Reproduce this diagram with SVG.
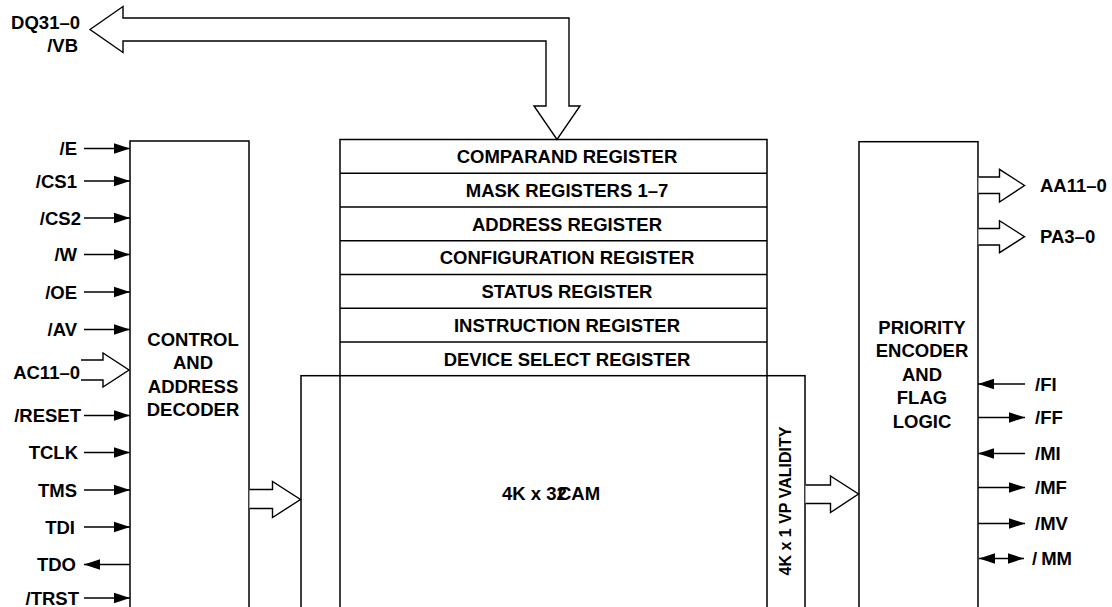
<svg xmlns="http://www.w3.org/2000/svg" width="1112" height="607" viewBox="0 0 1112 607">
<style>
.box{fill:#fff;stroke:#000;stroke-width:1.5}
.nofill{fill:none;stroke:#000;stroke-width:1.5}
.ln{fill:none;stroke:#000;stroke-width:1.5}
.sig{fill:none;stroke:#000;stroke-width:1.4}
.bus{fill:#fff;stroke:#000;stroke-width:1.4;stroke-linejoin:miter}
.t{font-family:"Liberation Sans",Arial,Helvetica,sans-serif;font-weight:bold;font-size:18.5px;fill:#000}
.c{text-anchor:middle}
.e{text-anchor:end}
</style>
<defs>
<marker id="ah" markerUnits="userSpaceOnUse" markerWidth="17" markerHeight="12" refX="16" refY="6" orient="auto-start-reverse">
<path d="M0,0.8 L16,6 L0,11.2 z" fill="#000"/>
</marker>
</defs>

<g id="cam">
<rect class="box" x="301" y="375.7" width="504" height="300"/>
<text class="t" x="502" y="500">4K x 32<tspan x="558">CAM</tspan></text>
</g>

<g id="registers">
<rect class="nofill" x="340" y="139.5" width="427" height="540"/>
<line class="ln" x1="340" y1="173.2" x2="767" y2="173.2"/>
<line class="ln" x1="340" y1="207" x2="767" y2="207"/>
<line class="ln" x1="340" y1="240.7" x2="767" y2="240.7"/>
<line class="ln" x1="340" y1="274.5" x2="767" y2="274.5"/>
<line class="ln" x1="340" y1="308.2" x2="767" y2="308.2"/>
<line class="ln" x1="340" y1="342" x2="767" y2="342"/>
<text class="t c" x="567" y="163">COMPARAND REGISTER</text>
<text class="t c" x="567" y="196.7">MASK REGISTERS 1–7</text>
<text class="t c" x="567" y="230.5">ADDRESS REGISTER</text>
<text class="t c" x="567" y="264.2">CONFIGURATION REGISTER</text>
<text class="t c" x="567" y="298">STATUS REGISTER</text>
<text class="t c" x="567" y="331.7">INSTRUCTION REGISTER</text>
<text class="t c" x="567" y="365.5">DEVICE SELECT REGISTER</text>
</g>

<g id="validity">
<text class="t c" style="font-size:16px" transform="translate(791,501) rotate(-90)">4K x 1 VP VALIDITY</text>
</g>

<g id="control">
<rect class="box" x="130" y="141" width="119" height="500"/>
<text class="t c" x="193" y="345.6">CONTROL</text>
<text class="t c" x="193" y="368.6">AND</text>
<text class="t c" x="193" y="392.6">ADDRESS</text>
<text class="t c" x="193" y="415.6">DECODER</text>
</g>

<g id="priority">
<rect class="box" x="859" y="141.7" width="119" height="500"/>
<text class="t c" x="922" y="333.5">PRIORITY</text>
<text class="t c" x="922" y="357">ENCODER</text>
<text class="t c" x="922" y="380.5">AND</text>
<text class="t c" x="922" y="404">FLAG</text>
<text class="t c" x="922" y="427.5">LOGIC</text>
</g>

<g id="connectors">
<!-- data bus DQ31-0 -->
<path class="bus" d="M90,29.5 L123,6.5 L123,18 L569,18 L569,106 L580,106 L557,139.5 L534,106 L546,106 L546,41 L123,41 L123,52.5 Z"/>
<!-- AC11-0 bus -->
<path class="bus" d="M81,360 L103,360 L103,353 L129,370 L103,387 L103,380 L81,380"/>
<!-- control to CAM -->
<path class="bus" d="M249.5,489.5 L272.5,489.5 L272.5,481.5 L300.5,499.5 L272.5,517.5 L272.5,508.5 L249.5,508.5"/>
<!-- validity to priority -->
<path class="bus" d="M805.5,485 L830.5,485 L830.5,476 L858.5,494 L830.5,512.5 L830.5,503.5 L805.5,503.5"/>
<!-- AA11-0 -->
<path class="bus" d="M978.5,177 L999.5,177 L999.5,169.3 L1024.5,185.5 L999.5,202 L999.5,193.5 L978.5,193.5"/>
<!-- PA3-0 -->
<path class="bus" d="M978.5,228.5 L999.5,228.5 L999.5,220.7 L1024.5,236.7 L999.5,252.7 L999.5,245 L978.5,245"/>

<!-- left signals -->
<line class="sig" x1="84" y1="148.5" x2="130" y2="148.5" marker-end="url(#ah)"/>
<line class="sig" x1="84" y1="181" x2="130" y2="181" marker-end="url(#ah)"/>
<line class="sig" x1="84" y1="218" x2="130" y2="218" marker-end="url(#ah)"/>
<line class="sig" x1="84" y1="254.5" x2="130" y2="254.5" marker-end="url(#ah)"/>
<line class="sig" x1="84" y1="292" x2="130" y2="292" marker-end="url(#ah)"/>
<line class="sig" x1="84" y1="329.5" x2="130" y2="329.5" marker-end="url(#ah)"/>
<line class="sig" x1="84" y1="415.5" x2="130" y2="415.5" marker-end="url(#ah)"/>
<line class="sig" x1="84" y1="452.5" x2="130" y2="452.5" marker-end="url(#ah)"/>
<line class="sig" x1="84" y1="490" x2="130" y2="490" marker-end="url(#ah)"/>
<line class="sig" x1="84" y1="527" x2="130" y2="527" marker-end="url(#ah)"/>
<line class="sig" x1="130" y1="564.5" x2="84" y2="564.5" marker-end="url(#ah)"/>
<line class="sig" x1="84" y1="598" x2="130" y2="598" marker-end="url(#ah)"/>

<!-- right signals -->
<line class="sig" x1="1025" y1="384" x2="978" y2="384" marker-end="url(#ah)"/>
<line class="sig" x1="978" y1="417.5" x2="1025" y2="417.5" marker-end="url(#ah)"/>
<line class="sig" x1="1025" y1="453.5" x2="978" y2="453.5" marker-end="url(#ah)"/>
<line class="sig" x1="978" y1="487.5" x2="1025" y2="487.5" marker-end="url(#ah)"/>
<line class="sig" x1="978" y1="523.5" x2="1025" y2="523.5" marker-end="url(#ah)"/>
<line class="sig" x1="979" y1="558.5" x2="1024" y2="558.5" marker-start="url(#ah)" marker-end="url(#ah)"/>
</g>

<g id="labels">
<text class="t e" x="80" y="29">DQ31–0</text>
<text class="t e" x="78" y="52">/VB</text>
<text class="t e" x="77" y="155">/E</text>
<text class="t e" x="77" y="187.5">/CS1</text>
<text class="t e" x="81" y="224.5">/CS2</text>
<text class="t e" x="77" y="261">/W</text>
<text class="t e" x="77" y="298.5">/OE</text>
<text class="t e" x="77" y="336">/AV</text>
<text class="t e" x="80" y="378.5">AC11–0</text>
<text class="t e" x="81" y="422">/RESET</text>
<text class="t e" x="78" y="459">TCLK</text>
<text class="t e" x="77" y="496.5">TMS</text>
<text class="t e" x="75" y="533.5">TDI</text>
<text class="t e" x="76" y="571">TDO</text>
<text class="t e" x="79" y="604.5">/TRST</text>

<text class="t" x="1040" y="192">AA11–0</text>
<text class="t" x="1040" y="243.3">PA3–0</text>
<text class="t" x="1035" y="390.5">/FI</text>
<text class="t" x="1035" y="424">/FF</text>
<text class="t" x="1035" y="460">/MI</text>
<text class="t" x="1035" y="494">/MF</text>
<text class="t" x="1035" y="530">/MV</text>
<text class="t" x="1032" y="565">/<tspan dx="4">MM</tspan></text>
</g>
</svg>
